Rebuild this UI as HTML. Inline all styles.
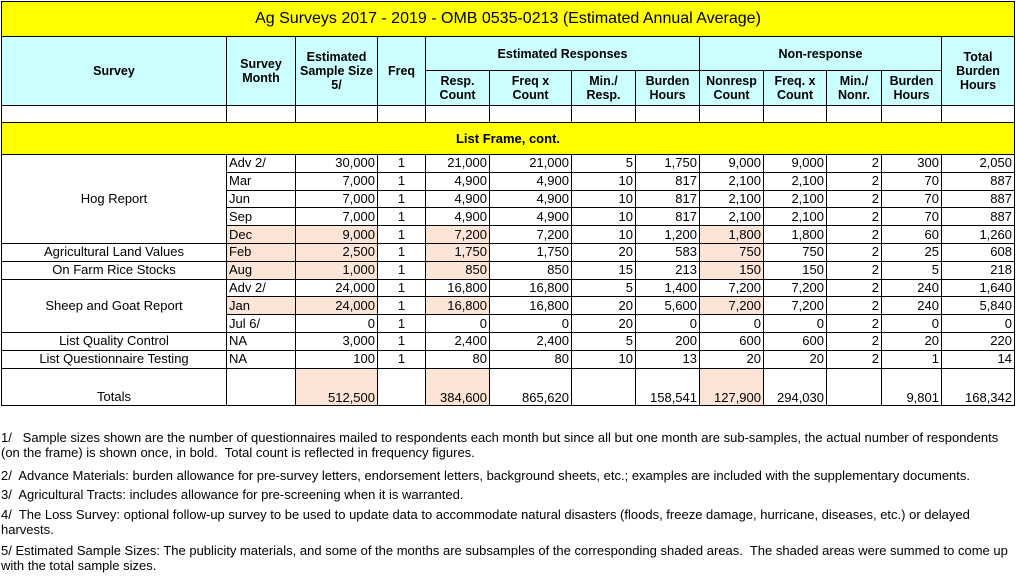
<!DOCTYPE html>
<html><head><meta charset="utf-8"><style>
body{margin:0;background:#fff;width:1016px;height:578px;overflow:hidden;font-family:"Liberation Sans",sans-serif;}
table{position:absolute;left:1px;top:1px;border-collapse:collapse;table-layout:fixed;}
td{border:1px solid #000;font-size:13px;padding:0 2px;overflow:hidden;white-space:nowrap;line-height:14px;}
.t{background:#ffff00;text-align:center;font-size:16px;height:34px;}
.h{background:#ccffff;text-align:center;font-weight:bold;font-size:12.5px;white-space:normal;}
.y{background:#ffff00;text-align:center;font-weight:bold;height:31px;}
.r{text-align:right;} .c{text-align:center;} .l{text-align:left;}
.p{background:#fce4d6;}
tr.d td{height:16.8px;}
.n{position:absolute;left:1px;font-size:13px;line-height:15px;width:1008px;}
</style></head><body>
<table>
<colgroup><col style="width:225px"><col style="width:69px"><col style="width:82px"><col style="width:48px"><col style="width:64px"><col style="width:82px"><col style="width:64px"><col style="width:64px"><col style="width:64px"><col style="width:63px"><col style="width:55px"><col style="width:60px"><col style="width:73px"></colgroup>
<tr><td colspan="13" class="t">Ag Surveys 2017 - 2019 - OMB 0535-0213 (Estimated Annual Average)</td></tr>
<tr style="height:34px"><td rowspan="2" class="h">Survey</td><td rowspan="2" class="h">Survey Month</td><td rowspan="2" class="h">Estimated Sample Size 5/</td><td rowspan="2" class="h">Freq</td><td colspan="4" class="h">Estimated Responses</td><td colspan="4" class="h">Non-response</td><td rowspan="2" class="h">Total Burden Hours</td></tr>
<tr style="height:35px"><td class="h">Resp. Count</td><td class="h">Freq x Count</td><td class="h">Min./ Resp.</td><td class="h">Burden Hours</td><td class="h">Nonresp Count</td><td class="h">Freq. x Count</td><td class="h">Min./ Nonr.</td><td class="h">Burden Hours</td></tr>
<tr style="height:17px"><td></td><td></td><td></td><td></td><td></td><td></td><td></td><td></td><td></td><td></td><td></td><td></td><td></td></tr>
<tr><td colspan="13" class="y">List Frame, cont.</td></tr>
<tr class="d"><td rowspan="5" class="c">Hog Report</td><td class="l">Adv 2/</td><td class="r">30,000</td><td class="c">1</td><td class="r">21,000</td><td class="r">21,000</td><td class="r">5</td><td class="r">1,750</td><td class="r">9,000</td><td class="r">9,000</td><td class="r">2</td><td class="r">300</td><td class="r">2,050</td></tr>
<tr class="d"><td class="l">Mar</td><td class="r">7,000</td><td class="c">1</td><td class="r">4,900</td><td class="r">4,900</td><td class="r">10</td><td class="r">817</td><td class="r">2,100</td><td class="r">2,100</td><td class="r">2</td><td class="r">70</td><td class="r">887</td></tr>
<tr class="d"><td class="l">Jun</td><td class="r">7,000</td><td class="c">1</td><td class="r">4,900</td><td class="r">4,900</td><td class="r">10</td><td class="r">817</td><td class="r">2,100</td><td class="r">2,100</td><td class="r">2</td><td class="r">70</td><td class="r">887</td></tr>
<tr class="d"><td class="l">Sep</td><td class="r">7,000</td><td class="c">1</td><td class="r">4,900</td><td class="r">4,900</td><td class="r">10</td><td class="r">817</td><td class="r">2,100</td><td class="r">2,100</td><td class="r">2</td><td class="r">70</td><td class="r">887</td></tr>
<tr class="d"><td class="l p">Dec</td><td class="r p">9,000</td><td class="c">1</td><td class="r p">7,200</td><td class="r">7,200</td><td class="r">10</td><td class="r">1,200</td><td class="r p">1,800</td><td class="r">1,800</td><td class="r">2</td><td class="r">60</td><td class="r">1,260</td></tr>
<tr class="d"><td class="c">Agricultural Land Values</td><td class="l p">Feb</td><td class="r p">2,500</td><td class="c">1</td><td class="r p">1,750</td><td class="r">1,750</td><td class="r">20</td><td class="r">583</td><td class="r p">750</td><td class="r">750</td><td class="r">2</td><td class="r">25</td><td class="r">608</td></tr>
<tr class="d"><td class="c">On Farm Rice Stocks</td><td class="l p">Aug</td><td class="r p">1,000</td><td class="c">1</td><td class="r p">850</td><td class="r">850</td><td class="r">15</td><td class="r">213</td><td class="r p">150</td><td class="r">150</td><td class="r">2</td><td class="r">5</td><td class="r">218</td></tr>
<tr class="d"><td rowspan="3" class="c">Sheep and Goat Report</td><td class="l">Adv 2/</td><td class="r">24,000</td><td class="c">1</td><td class="r">16,800</td><td class="r">16,800</td><td class="r">5</td><td class="r">1,400</td><td class="r">7,200</td><td class="r">7,200</td><td class="r">2</td><td class="r">240</td><td class="r">1,640</td></tr>
<tr class="d"><td class="l p">Jan</td><td class="r p">24,000</td><td class="c">1</td><td class="r p">16,800</td><td class="r">16,800</td><td class="r">20</td><td class="r">5,600</td><td class="r p">7,200</td><td class="r">7,200</td><td class="r">2</td><td class="r">240</td><td class="r">5,840</td></tr>
<tr class="d"><td class="l">Jul 6/</td><td class="r">0</td><td class="c">1</td><td class="r">0</td><td class="r">0</td><td class="r">20</td><td class="r">0</td><td class="r">0</td><td class="r">0</td><td class="r">2</td><td class="r">0</td><td class="r">0</td></tr>
<tr class="d"><td class="c">List Quality Control</td><td class="l">NA</td><td class="r">3,000</td><td class="c">1</td><td class="r">2,400</td><td class="r">2,400</td><td class="r">5</td><td class="r">200</td><td class="r">600</td><td class="r">600</td><td class="r">2</td><td class="r">20</td><td class="r">220</td></tr>
<tr class="d"><td class="c">List Questionnaire Testing</td><td class="l">NA</td><td class="r">100</td><td class="c">1</td><td class="r">80</td><td class="r">80</td><td class="r">10</td><td class="r">13</td><td class="r">20</td><td class="r">20</td><td class="r">2</td><td class="r">1</td><td class="r">14</td></tr>
<tr style="height:37px;vertical-align:bottom"><td class="c" style="padding-bottom:1px">Totals</td><td></td><td class="r p">512,500</td><td></td><td class="r p">384,600</td><td class="r">865,620</td><td></td><td class="r">158,541</td><td class="r p">127,900</td><td class="r">294,030</td><td></td><td class="r">9,801</td><td class="r">168,342</td></tr>
</table>
<div class="n" style="top:430px">1/&nbsp;&nbsp; Sample sizes shown are the number of questionnaires mailed to respondents each month but since all but one month are sub-samples, the actual number of respondents (on the frame) is shown once, in bold.&nbsp; Total count is reflected in frequency figures.</div>
<div class="n" style="top:468px">2/&nbsp; Advance Materials: burden allowance for pre-survey letters, endorsement letters, background sheets, etc.; examples are included with the supplementary documents.</div>
<div class="n" style="top:487px">3/&nbsp; Agricultural Tracts: includes allowance for pre-screening when it is warranted.</div>
<div class="n" style="top:507px">4/&nbsp; The Loss Survey: optional follow-up survey to be used to update data to accommodate natural disasters (floods, freeze damage, hurricane, diseases, etc.) or delayed harvests.</div>
<div class="n" style="top:543px">5/ Estimated Sample Sizes: The publicity materials, and some of the months are subsamples of the corresponding shaded areas.&nbsp; The shaded areas were summed to come up with the total sample sizes.</div>
</body></html>
